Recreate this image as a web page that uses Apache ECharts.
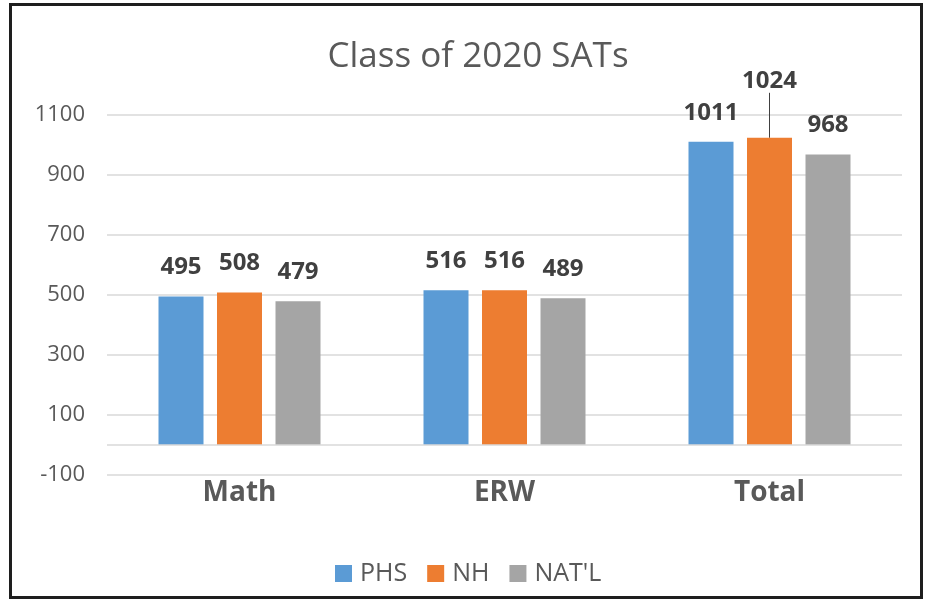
<!DOCTYPE html>
<html>
<head>
<meta charset="utf-8">
<script src="https://cdn.jsdelivr.net/npm/echarts@6/dist/echarts.min.js"></script>
<style>
  html, body { margin: 0; padding: 0; background: #fff; }
  #chart { position: absolute; left: 0; top: 0; width: 926px; height: 601px; }
  #frame { position: absolute; left: 9px; top: 3px; width: 908px; height: 590px; border: 3px solid #1e1e1e; pointer-events: none; }
</style>
</head>
<body>
<div id="chart"></div>
<div id="frame"></div>
<script>
const titleText = 'Class of 2020 SATs';
const categories = ['Math', 'ERW', 'Total'];
const seriesNames = ['PHS', 'NH', "NAT'L"];
const phs = [495, 516, 1011];
const nh = [508, 516, 1024];
const natl = [479, 489, 968];
const yMin = -100, yMax = 1100, yStep = 200;
const colors = ['#5B9BD5', '#ED7D31', '#A5A5A5'];

const FONT = '"Open Sans", sans-serif';
const chart = echarts.init(document.getElementById('chart'), null, { renderer: 'canvas' });

const labelStyle = {
  show: true, position: 'top', distance: 17,
  fontFamily: FONT, fontSize: 24, fontWeight: 'bold', color: '#404040'
};

function makeSeries(name, values, idx) {
  return {
    name: name, type: 'bar', barWidth: 45, barGap: '30%',
    itemStyle: { color: colors[idx] },
    label: labelStyle,
    labelLine: { show: false },
    data: values.map((v, i) => (idx === 1 && i === 2)
      ? { value: v, labelLine: { show: true, lineStyle: { color: '#404040', width: 1 } } }
      : { value: v }),
    labelLayout: idx === 1 ? function (p) { return p.dataIndex === 2 ? { dy: -28 } : {}; } : undefined,
    markLine: idx === 0 ? {
      silent: true, symbol: 'none', label: { show: false },
      lineStyle: { color: '#d9d9d9', width: 1.5, type: 'solid' },
      data: [{ yAxis: 0 }]
    } : undefined
  };
}

chart.setOption({
  animation: false,
  backgroundColor: '#fff',
  title: {
    text: titleText, left: 473, top: 35, textAlign: 'center',
    textStyle: { fontFamily: FONT, fontSize: 35, fontWeight: 'normal', color: '#595959' }
  },
  legend: {
    data: seriesNames, left: 330, top: 556, itemWidth: 17, itemHeight: 17, itemGap: 20,
    icon: 'rect',
    textStyle: { fontFamily: FONT, fontSize: 25, color: '#595959', padding: [0, 0, 0, 3] }
  },
  grid: { left: 107, right: 24, top: 115, bottom: 126, containLabel: false },
  xAxis: {
    type: 'category', data: categories,
    axisLine: { show: false }, axisTick: { show: false },
    axisLabel: { margin: 4, fontFamily: FONT, fontSize: 28, fontWeight: 'bold', color: '#595959' }
  },
  yAxis: {
    type: 'value', min: yMin, max: yMax, interval: yStep,
    axisLine: { show: false }, axisTick: { show: false },
    splitLine: { lineStyle: { color: '#d9d9d9', width: 1.5 } },
    axisLabel: { margin: 22, fontFamily: FONT, fontSize: 22, color: '#595959', formatter: v => String(v) }
  },
  series: [makeSeries(seriesNames[0], phs, 0), makeSeries(seriesNames[1], nh, 1), makeSeries(seriesNames[2], natl, 2)]
});
</script>
</body>
</html>
